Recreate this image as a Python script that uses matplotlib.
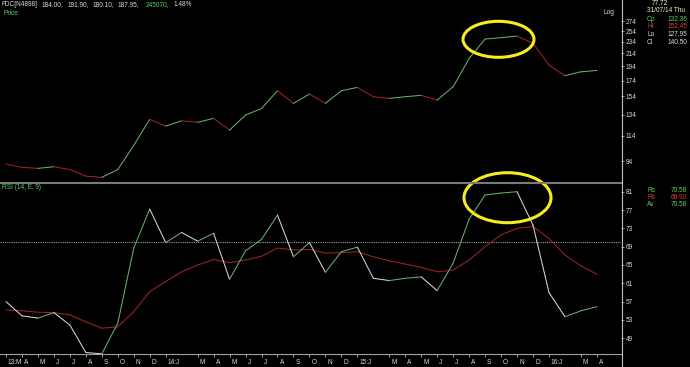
import matplotlib
matplotlib.use("Agg")
import matplotlib.pyplot as plt
from matplotlib.patches import Ellipse
from matplotlib.lines import Line2D
import matplotlib.transforms as mtransforms
import numpy as np

plt.rcParams['font.family'] = ['Liberation Sans', 'DejaVu Sans']

# ---------------- data ----------------
month_labels = ['13:M', 'A', 'M', 'J', 'J', 'A', 'S', 'O', 'N', 'D',
                '14:J', '', 'M', 'A', 'M', 'J', 'J', 'A', 'S', 'O', 'N', 'D',
                '15:J', '', 'M', 'A', 'M', 'J', 'J', 'A', 'S', 'O', 'N', 'D',
                '16:J', '', 'M', 'A']

price_close = [91.9, 89.6, 88.9, 90.0, 88.1, 83.8, 83.0, 88.1, 106.0, 129.3,
               122.8, 127.9, 126.4, 130.3, 119.1, 133.6, 140.5, 161.0, 146.1, 156.9,
               146.1, 160.9, 165.1, 153.7, 151.8, 153.7, 155.4, 149.9, 165.9, 206.0,
               238.9, 241.5, 244.4, 231.5, 195.8, 180.5, 186.0, 187.95]

rsi_values = [57.0, 53.9, 53.4, 54.6, 51.9, 45.9, 45.6, 52.3, 68.7, 77.2,
              69.9, 72.1, 70.2, 71.9, 61.9, 68.1, 70.58, 75.9, 66.8, 69.9,
              63.4, 67.9, 68.9, 62.1, 61.6, 62.1, 62.4, 59.4, 65.4, 75.0,
              80.3, 80.7, 81.0, 73.7, 59.0, 53.7, 55.0, 55.9]

rsi_avg = [55.2, 55.0, 54.7, 54.6, 54.1, 52.6, 51.2, 51.5, 54.8, 59.2,
           61.4, 63.5, 65.0, 66.2, 65.5, 66.1, 66.9, 68.7, 68.3, 68.4,
           67.6, 67.7, 67.9, 66.8, 65.9, 65.2, 64.5, 63.5, 63.9, 66.1,
           69.0, 71.6, 73.0, 73.4, 70.8, 67.2, 64.8, 63.0]

price_ticks = [94, 114, 134, 154, 174, 194, 214, 234, 254, 274]
rsi_ticks = [49, 53, 57, 61, 65, 69, 73, 77, 81]
rsi_level = 70

# ---------------- figure ----------------
W, H = 690, 367
fig = plt.figure(figsize=(W / 100, H / 100), dpi=100, facecolor='black')

def fx(px):
    return px / W

def fy(py):
    return 1 - py / H

x = np.arange(len(price_close))
xlim = (-0.376, 38.51)

axis_col = '#b4b4b4'
txt_col = '#d8d8d8'
green_line = '#6aae6a'
red_line = '#9e2428'
white_line = '#d6d6d6'
FS = 4.7

# Price panel
axp = fig.add_axes([0, fy(182), fx(621), 182 / H], facecolor='black')
axp.set_yscale('log')
axp.set_xlim(*xlim)
axp.set_ylim(80.1, 322)
for i in range(1, len(price_close)):
    c = green_line if price_close[i] >= price_close[i - 1] else red_line
    axp.plot(x[i - 1:i + 1], price_close[i - 1:i + 1], color=c, lw=0.75,
             solid_capstyle='round')
axp.set_yticks(price_ticks)
axp.set_yticklabels([str(t) for t in price_ticks])
axp.yaxis.set_minor_locator(matplotlib.ticker.NullLocator())
axp.yaxis.tick_right()
axp.tick_params(axis='y', which='both', direction='out', length=2.5, width=0.6,
                colors=axis_col, labelcolor=txt_col, labelsize=FS, pad=0.8)
axp.set_xticks([])
for s in axp.spines.values():
    s.set_visible(False)

# RSI panel
axr = fig.add_axes([0, fy(354), fx(621), (354 - 183) / H], facecolor='black')
axr.set_xlim(*xlim)
axr.set_ylim(45.57, 82.9)
axr.axhline(rsi_level, color='#9a9a9a', lw=0.8, ls=(0, (1, 1)))
axr.plot(x, rsi_avg, color=red_line, lw=0.75)
for i in range(1, len(rsi_values)):
    c = green_line if rsi_values[i] >= rsi_values[i - 1] else white_line
    axr.plot(x[i - 1:i + 1], rsi_values[i - 1:i + 1], color=c, lw=0.75,
             solid_capstyle='round', clip_on=True)
axr.set_yticks(rsi_ticks)
axr.set_yticklabels([str(t) for t in rsi_ticks])
axr.yaxis.tick_right()
axr.tick_params(axis='y', direction='out', length=2.5, width=0.6,
                colors=axis_col, labelcolor=txt_col, labelsize=FS, pad=0.8)
tick_idx = [i for i, l in enumerate(month_labels) if l]
axr.set_xticks(tick_idx)
axr.set_xticklabels([month_labels[i] for i in tick_idx])
axr.tick_params(axis='x', direction='out', length=2, width=0.6,
                colors=axis_col, labelcolor=txt_col, labelsize=FS, pad=1.4)
offset = mtransforms.ScaledTranslation(2 / 100, 0, fig.dpi_scale_trans)
for lab in axr.get_xticklabels():
    lab.set_horizontalalignment('left')
    lab.set_transform(lab.get_transform() + offset)
for k, s in axr.spines.items():
    s.set_visible(k == 'bottom')
axr.spines['bottom'].set_color('#a0a0a0')
axr.spines['bottom'].set_linewidth(0.8)

# separator and right axis line
fig.add_artist(Line2D([0, fx(621)], [fy(182.5), fy(182.5)], color='#7a7a7a', lw=1.5))
fig.add_artist(Line2D([fx(621.5), fx(621.5)], [0, 1], color='#c0c0c0', lw=0.8))

# header texts
def t(px, py, s, color=txt_col, ha='left', size=FS):
    fig.text(fx(px), fy(py), s, color=color, ha=ha, va='center', fontsize=size)

hdr_green = '#5fcf5f'
hdr_red = '#e03a3a'
hdr_yel = '#eeeebb'
t(2, 4.5, 'FDC[N4898]')
t(42, 4.5, '184.00,')
t(68, 4.5, '191.90,')
t(93, 4.5, '180.10,')
t(118, 4.5, '187.95,')
t(146, 4.5, '245070,', color=hdr_green)
t(174, 4.5, '1.48%')
t(3, 13.5, 'Price', color=hdr_green)
t(603, 12, 'Log')
t(652, 3.5, '77.72', color=hdr_yel)
t(647, 11, '31/07/14 Thu', color=hdr_yel)
t(647, 19.5, 'Op', color=hdr_green)
t(687, 19.5, '132.36', color=hdr_green, ha='right')
t(647, 27, 'Hi', color=hdr_red)
t(687, 27, '152.45', color=hdr_red, ha='right')
t(647, 34.5, 'Lo')
t(687, 34.5, '127.95', ha='right')
t(647, 42, 'Cl')
t(687, 42, '140.50', ha='right')

t(2, 187.5, 'RSI (14, E, 9)', color=hdr_green)
t(647, 190, 'Rs', color=hdr_green)
t(687, 190, '70.58', color=hdr_green, ha='right')
t(647, 197, 'Rs', color=hdr_red)
t(687, 197, '66.90', color=hdr_red, ha='right')
t(647, 204, 'Av', color=hdr_green)
t(687, 204, '70.58', color=hdr_green, ha='right')

# highlight ellipses
yel = '#f7ec1c'
fig.add_artist(Ellipse((fx(498.5), fy(39.3)), 71 / W, 36 / H, transform=fig.transFigure,
                       fill=False, edgecolor=yel, lw=2.2))
fig.add_artist(Ellipse((fx(507.5), fy(197.7)), 87 / W, 50 / H, transform=fig.transFigure,
                       fill=False, edgecolor=yel, lw=2.2))

fig.savefig('out.png', dpi=100, facecolor='black')
